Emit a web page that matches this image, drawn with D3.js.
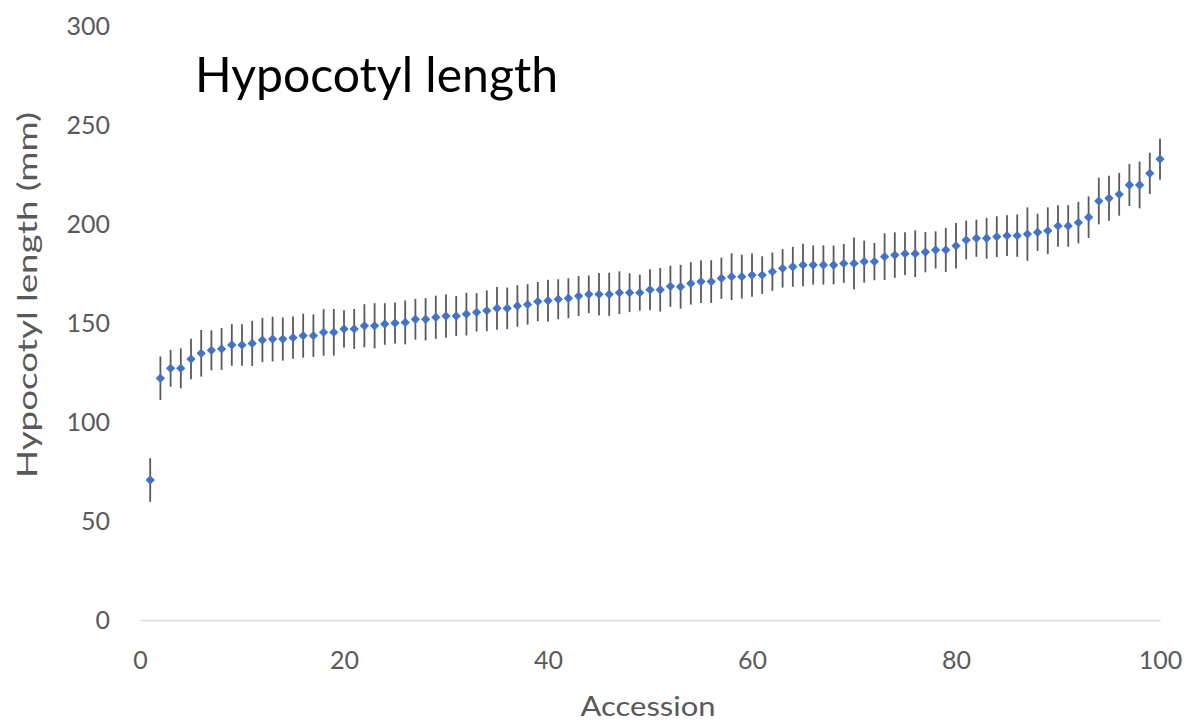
<!DOCTYPE html>
<html>
<head>
<meta charset="utf-8">
<script src="https://cdn.jsdelivr.net/npm/d3@7"></script>
<style>
  body { margin: 0; background: #fff; }
  text { font-family: Lato, "Open Sans", sans-serif; }
</style>
</head>
<body>
<script>

// Hypocotyl length per accession (mm), sorted
const accessions = d3.range(1, 101);

const lengths = [
  70.7, 122.1, 127.1, 127.1, 131.8, 134.7, 136.2, 136.9, 138.9, 138.9,
  139.7, 141.4, 141.9, 141.9, 142.6, 143.6, 143.6, 145.3, 145.3, 147.0,
  147.0, 148.6, 148.6, 149.5, 150.0, 150.3, 151.9, 151.9, 152.9, 153.5,
  153.5, 154.5, 155.4, 156.2, 157.4, 157.4, 158.6, 159.4, 160.8, 161.3,
  162.0, 162.5, 163.6, 164.5, 164.5, 164.5, 165.3, 165.3, 165.3, 166.8,
  166.8, 168.5, 168.3, 170.0, 170.9, 170.9, 172.6, 173.4, 173.4, 174.2,
  174.2, 175.9, 177.6, 178.4, 179.3, 179.3, 179.3, 179.3, 180.1, 180.1,
  181.0, 181.0, 183.5, 184.3, 185.0, 185.0, 185.8, 186.9, 186.9, 189.0,
  191.9, 192.8, 192.8, 193.6, 194.1, 194.1, 194.9, 195.8, 196.6, 199.0,
  199.0, 200.7, 203.4, 211.6, 213.0, 215.0, 219.7, 219.7, 225.6, 232.8
];

// error bar half-widths (mm)
const errors = [
  11.0, 11.0, 9.3, 10.1, 10.2, 11.8, 10.1, 10.6, 10.5, 10.5,
  11.4, 11.2, 11.3, 10.9, 10.7, 11.1, 10.7, 11.8, 11.8, 9.4,
  10.1, 10.9, 11.4, 10.5, 10.4, 11.1, 10.3, 10.7, 10.9, 10.9,
  10.1, 10.8, 9.7, 10.3, 10.8, 10.5, 10.5, 10.2, 9.9, 10.6,
  10.1, 10.1, 10.1, 9.5, 10.7, 10.9, 10.8, 9.8, 9.1, 10.4,
  11.0, 10.4, 11.1, 10.7, 10.8, 10.8, 10.4, 11.8, 11.1, 10.9,
  9.5, 9.7, 9.7, 10.1, 10.7, 9.9, 9.9, 9.8, 9.8, 13.1,
  10.6, 9.4, 11.8, 11.5, 10.8, 11.8, 10.2, 9.4, 11.1, 11.5,
  9.8, 9.4, 10.3, 10.3, 10.3, 10.7, 13.5, 9.4, 11.8, 10.5,
  10.5, 10.5, 10.5, 11.8, 11.4, 10.8, 10.6, 11.8, 10.4, 10.4
];

const xTicks = [0, 20, 40, 60, 80, 100];
const yTicks = [0, 50, 100, 150, 200, 250, 300];

const chartTitle = 'Hypocotyl length';
const xTitle = 'Accession';
const yTitle = 'Hypocotyl length (mm)';

const data = accessions.map((a, i) => ({ x: a, y: lengths[i], err: errors[i] }));

class chart {

  constructor(opts) {
    this.element = opts.element;
    this.data = opts.data;
    this.draw();
  }

  draw() {
    this.width = 1185;
    this.height = 724;
    this.margin = { top: 26, right: 25, bottom: 104, left: 140 };

    this.innerWidth = this.width - (this.margin.left + this.margin.right);
    this.innerHeight = this.height - (this.margin.top + this.margin.bottom);

    const svg = d3.select(this.element).append('svg')
      .attr('width', this.width)
      .attr('height', this.height);

    this.svg = svg;
    this.plot = svg.append('g')
      .attr('transform', `translate(${this.margin.left},${this.margin.top})`);

    this.createScales();
    this.addAxes();
    this.addChart();
    this.addTitles();
  }

  createScales() {
    this.xScale = d3.scaleLinear()
      .domain([0, 100])
      .range([0, this.innerWidth]);

    this.yScale = d3.scaleLinear()
      .domain([0, 300])
      .range([this.innerHeight, 0]);
  }

  addAxes() {
    const xAxis = d3.axisBottom(this.xScale)
      .tickValues(xTicks)
      .tickSize(0)
      .tickPadding(31);

    const yAxis = d3.axisLeft(this.yScale)
      .tickValues(yTicks)
      .tickSize(0)
      .tickPadding(30);

    const gx = this.plot.append('g')
      .attr('class', 'x axis')
      .attr('transform', `translate(0, ${this.innerHeight})`)
      .call(xAxis);

    gx.select('.domain')
      .attr('stroke', '#d9d9d9')
      .attr('stroke-width', 1.5);

    gx.selectAll('text')
      .attr('fill', '#595959')
      .style('font-size', '25px');

    const gy = this.plot.append('g')
      .attr('class', 'y axis')
      .call(yAxis);

    gy.select('.domain').remove();

    gy.selectAll('text')
      .attr('fill', '#595959')
      .style('font-size', '25px');
  }

  addChart() {
    const x = this.xScale;
    const y = this.yScale;

    this.plot.selectAll('.errbar')
      .data(this.data)
      .enter().append('line')
        .attr('class', 'errbar')
        .attr('x1', d => x(d.x))
        .attr('x2', d => x(d.x))
        .attr('y1', d => y(d.y + d.err))
        .attr('y2', d => y(d.y - d.err))
        .attr('stroke', '#595959')
        .attr('stroke-width', 1.8);

    const diamond = d3.symbol().type(d3.symbolDiamond2).size(55);

    this.plot.selectAll('.point')
      .data(this.data)
      .enter().append('path')
        .attr('class', 'point')
        .attr('d', diamond)
        .attr('transform', d => `translate(${x(d.x)},${y(d.y)})`)
        .attr('fill', '#4472c4');
  }

  addTitles() {
    this.svg.append('text')
      .attr('x', 195)
      .attr('y', 92)
      .attr('fill', '#000')
      .style('font-size', '48px')
      .attr('textLength', 363)
      .attr('lengthAdjust', 'spacingAndGlyphs')
      .text(chartTitle);

    this.svg.append('text')
      .attr('x', this.margin.left + this.innerWidth / 2 - 2)
      .attr('y', 716)
      .attr('text-anchor', 'middle')
      .attr('fill', '#595959')
      .style('font-size', '27px')
      .attr('textLength', 135)
      .attr('lengthAdjust', 'spacingAndGlyphs')
      .text(xTitle);

    this.svg.append('text')
      .attr('transform', `translate(37, 295) rotate(-90)`)
      .attr('text-anchor', 'middle')
      .attr('fill', '#595959')
      .style('font-size', '26px')
      .attr('textLength', 366)
      .attr('lengthAdjust', 'spacingAndGlyphs')
      .text(yTitle);
  }

}

new chart({ element: document.querySelector('body'), data: data });

</script>
</body>
</html>
